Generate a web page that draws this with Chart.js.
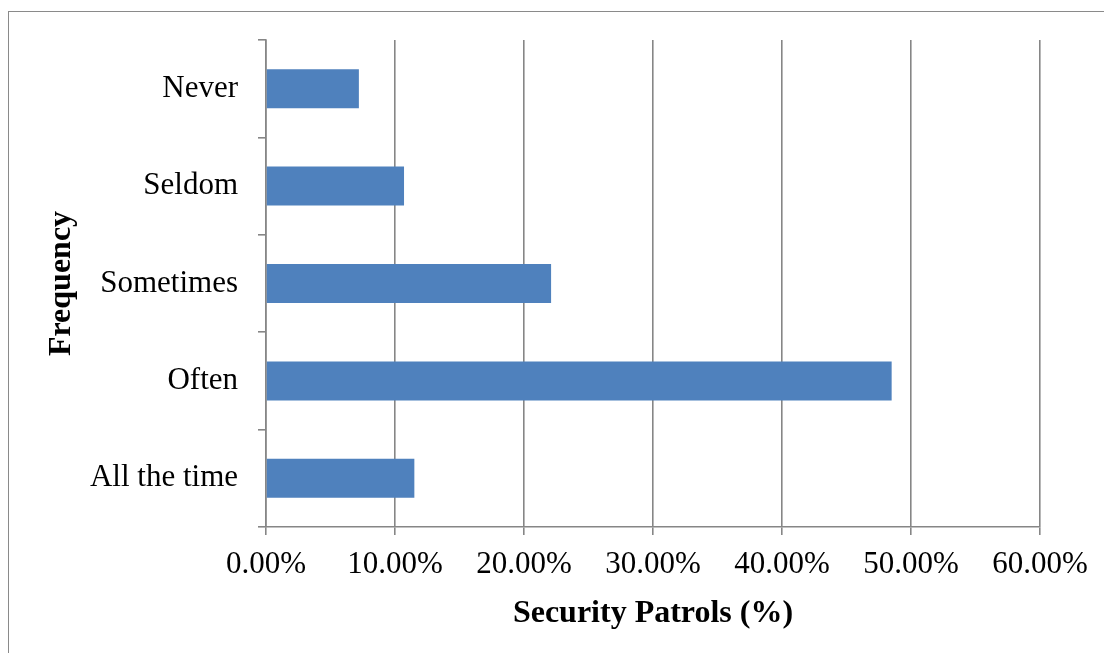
<!DOCTYPE html>
<html lang="en">
<head>
    <meta charset="UTF-8">
    <title>Security Patrols</title>
    <script src="https://cdn.jsdelivr.net/npm/chart.js"></script>
    <style>
      body { margin: 0; background: #fff; }
      #wrap { position: relative; width: 1104px; height: 653px; overflow: hidden; }
      #frame {
        position: absolute; left: 8px; top: 11px; width: 1200px; height: 700px;
        border-top: 1.5px solid #8a8a8a; border-left: 1.5px solid #8a8a8a;
      }
      canvas { position: absolute; left: 0; top: 0; }
    </style>
</head>
<body>
<div id="wrap">
    <div id="frame"></div>
    <canvas id="myChart" width="1104" height="653"></canvas>
</div>
<script>
    const categories = ['Never', 'Seldom', 'Sometimes', 'Often', 'All the time'];
    const patrolValues = [7.2, 10.7, 22.1, 48.5, 11.5];
    const xTicks = [0, 10, 20, 30, 40, 50, 60];

    const gray = '#868686';
    const font = { family: '"Liberation Serif", "Times New Roman", serif', size: 31 };
    const boldFont = { family: '"Liberation Serif", "Times New Roman", serif', size: 32, weight: 'bold' };

    const ctx = document.getElementById('myChart').getContext('2d');
    new Chart(ctx, {
        type: 'bar',
        data: {
            labels: categories,
            datasets: [{
                data: patrolValues,
                backgroundColor: '#4f81bd',
                borderWidth: 0,
                categoryPercentage: 1,
                barPercentage: 0.4
            }]
        },
        options: {
            indexAxis: 'y',
            responsive: false,
            animation: false,
            layout: { padding: { top: 40, right: 64, left: 0, bottom: 0 } },
            plugins: { legend: { display: false }, tooltip: { enabled: false } },
            scales: {
                x: {
                    min: 0,
                    max: 60,
                    afterBuildTicks: s => { s.ticks = xTicks.map(v => ({ value: v })); },
                    afterFit: s => { s.height = 126; },
                    ticks: {
                        color: '#000',
                        font: font,
                        padding: 11,
                        maxRotation: 0,
                        callback: v => v.toFixed(2) + '%'
                    },
                    grid: { color: gray, lineWidth: 1.6, tickLength: 8 },
                    border: { color: gray, width: 1.6 },
                    title: {
                        display: true,
                        text: 'Security Patrols (%)',
                        color: '#000',
                        font: boldFont,
                        padding: { top: 0, bottom: 20 }
                    }
                },
                y: {
                    afterFit: s => { s.width = 266; },
                    ticks: { color: '#000', font: font, padding: 20 },
                    grid: { offset: true, drawOnChartArea: false, color: gray, lineWidth: 1.6, tickLength: 8 },
                    border: { color: gray, width: 1.6 },
                    title: {
                        display: true,
                        text: 'Frequency',
                        color: '#000',
                        font: boldFont,
                        padding: { top: 43, bottom: 0 }
                    }
                }
            }
        }
    });
</script>
</body>
</html>
